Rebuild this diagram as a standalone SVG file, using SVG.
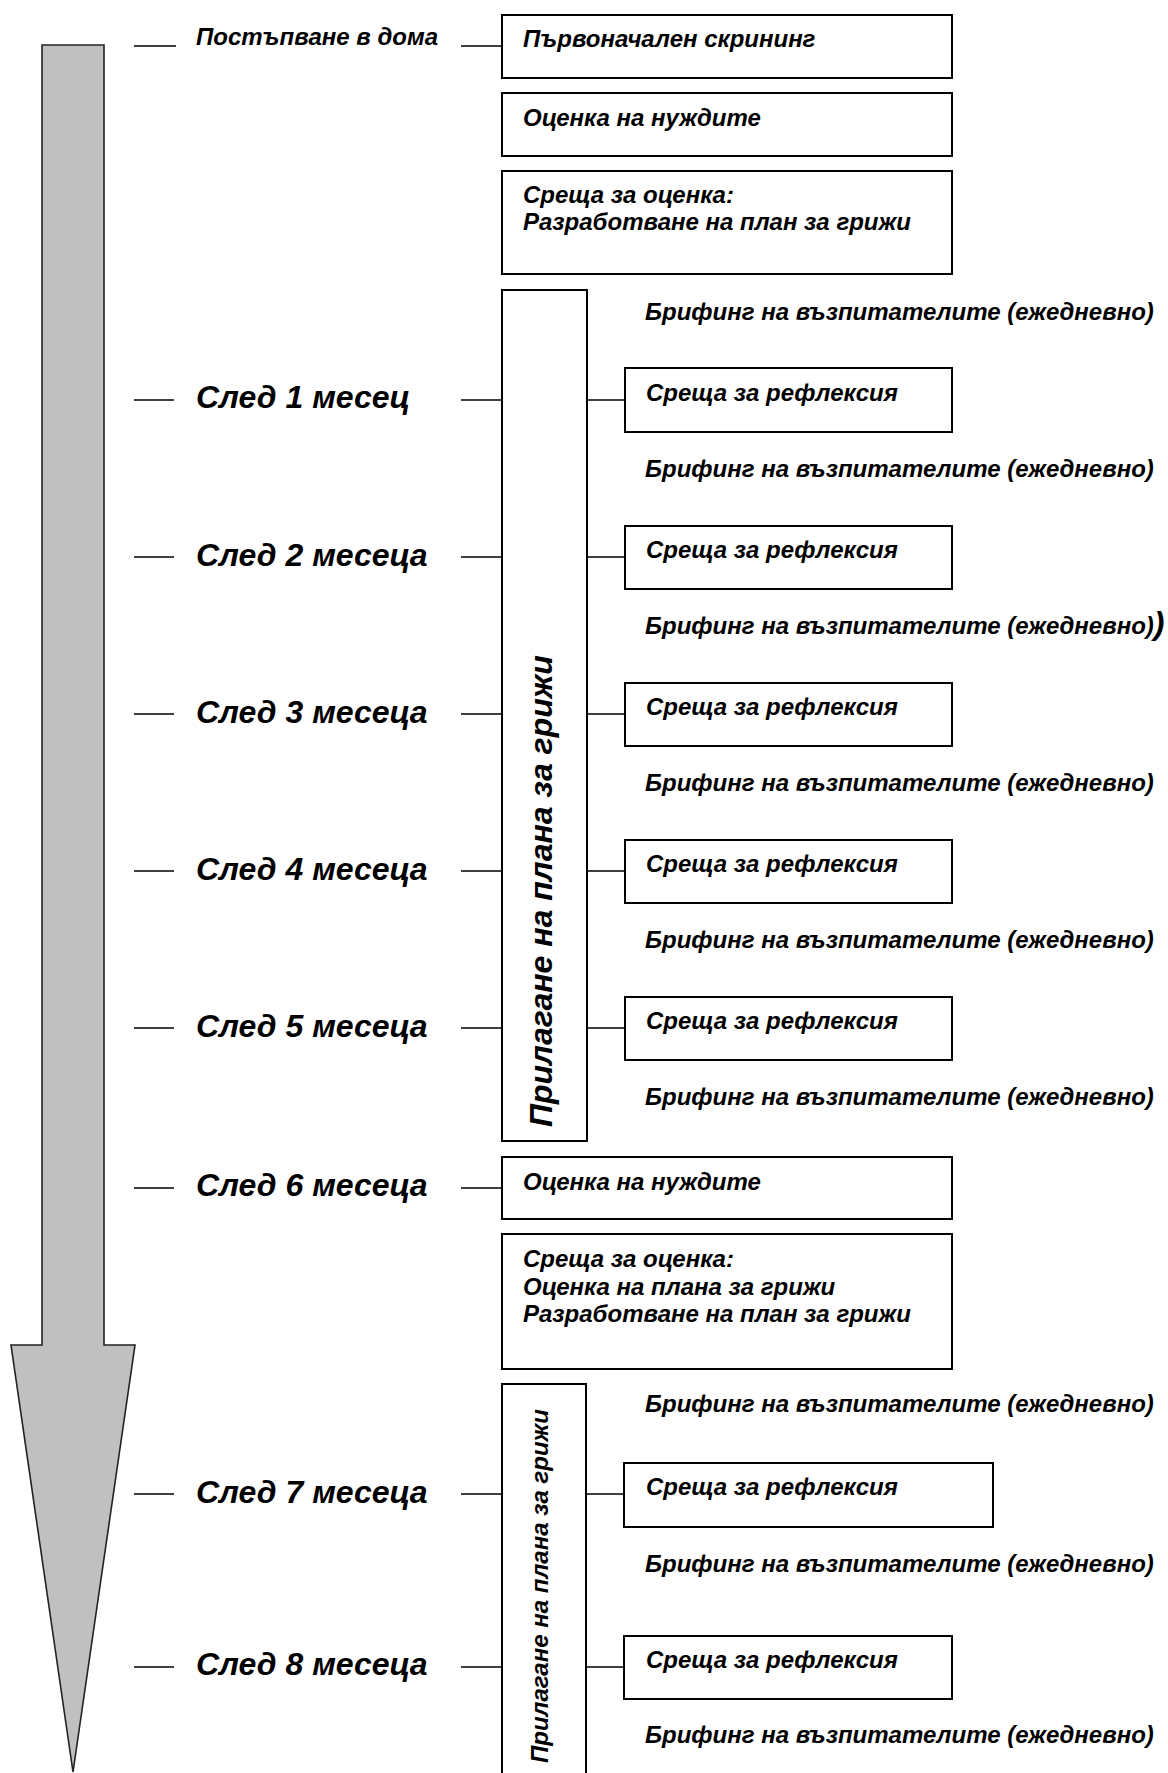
<svg xmlns="http://www.w3.org/2000/svg" width="1168" height="1773" viewBox="0 0 1168 1773">
<style>
text{font-family:"Liberation Sans",Arial,sans-serif;font-weight:bold;font-style:italic;fill:#000}
.s{font-size:24px}
.l{font-size:32px}
.box{fill:#fff;stroke:#000;stroke-width:2}
.tick{stroke:#000;stroke-width:1.6;fill:none}
</style>
<rect width="1168" height="1773" fill="#fff"/>
<g id="arrow">
<polygon points="42,45 104,45 104,1345 135,1345 73,1772 11,1345 42,1345" fill="#c0c0c0" stroke="#222" stroke-width="1.6"/>
</g>
<g id="connectors">
<path class="tick" d="M134,46H176 M461,46H502
M134,400H174 M461,400H502 M587,400H625
M134,557H174 M461,557H502 M587,557H625
M134,714H174 M461,714H502 M587,714H625
M134,871H174 M461,871H502 M587,871H625
M134,1028H174 M461,1028H502 M587,1028H625
M134,1188H174 M461,1188H502
M134,1494H174 M461,1494H502 M586,1494H624
M134,1667H174 M461,1667H502 M586,1667H624"/>
</g>
<g id="labels">
<text class="s" x="196" y="45">Постъпване в дома</text>
<text class="l" x="196" y="408">След 1 месец</text>
<text class="l" x="196" y="566">След 2 месеца</text>
<text class="l" x="196" y="723">След 3 месеца</text>
<text class="l" x="196" y="880">След 4 месеца</text>
<text class="l" x="196" y="1037">След 5 месеца</text>
<text class="l" x="196" y="1196">След 6 месеца</text>
<text class="l" x="196" y="1503">След 7 месеца</text>
<text class="l" x="196" y="1675">След 8 месеца</text>
</g>
<g id="n-screening"><rect class="box" x="502" y="15" width="450" height="63"/><text class="s" x="523" y="47">Първоначален скрининг</text></g>
<g id="n-needs1"><rect class="box" x="502" y="93" width="450" height="63"/><text class="s" x="523" y="126">Оценка на нуждите</text></g>
<g id="n-eval1"><rect class="box" x="502" y="171" width="450" height="103"/><text class="s" x="523" y="203">Среща за оценка:</text><text class="s" x="523" y="230">Разработване на план за грижи</text></g>
<g id="n-impl1"><rect class="box" x="502" y="290" width="85" height="851"/><text class="l" transform="rotate(-90 552 1127)" x="552" y="1127">Прилагане на плана за грижи</text></g>
<g id="n-brief1"><text class="s" x="645" y="320">Брифинг на възпитателите (ежедневно)</text></g>
<g id="n-refl1"><rect class="box" x="625" y="368" width="327" height="64"/><text class="s" x="646" y="401">Среща за рефлексия</text></g>
<g id="n-brief2"><text class="s" x="645" y="477">Брифинг на възпитателите (ежедневно)</text></g>
<g id="n-refl2"><rect class="box" x="625" y="526" width="327" height="63"/><text class="s" x="646" y="558">Среща за рефлексия</text></g>
<g id="n-brief3"><text class="s" x="645" y="634">Брифинг на възпитателите (ежедневно)<tspan style="font-size:32px">)</tspan></text></g>
<g id="n-refl3"><rect class="box" x="625" y="683" width="327" height="63"/><text class="s" x="646" y="715">Среща за рефлексия</text></g>
<g id="n-brief4"><text class="s" x="645" y="791">Брифинг на възпитателите (ежедневно)</text></g>
<g id="n-refl4"><rect class="box" x="625" y="840" width="327" height="63"/><text class="s" x="646" y="872">Среща за рефлексия</text></g>
<g id="n-brief5"><text class="s" x="645" y="948">Брифинг на възпитателите (ежедневно)</text></g>
<g id="n-refl5"><rect class="box" x="625" y="997" width="327" height="63"/><text class="s" x="646" y="1029">Среща за рефлексия</text></g>
<g id="n-brief6"><text class="s" x="645" y="1105">Брифинг на възпитателите (ежедневно)</text></g>
<g id="n-needs2"><rect class="box" x="502" y="1157" width="450" height="62"/><text class="s" x="523" y="1190">Оценка на нуждите</text></g>
<g id="n-eval2"><rect class="box" x="502" y="1234" width="450" height="135"/><text class="s" x="523" y="1267">Среща за оценка:</text><text class="s" x="523" y="1295">Оценка на плана за грижи</text><text class="s" x="523" y="1322">Разработване на план за грижи</text></g>
<g id="n-impl2"><path class="box" d="M502,1776V1384H586V1776"/><text class="s" transform="rotate(-90 548 1763)" x="548" y="1763">Прилагане на плана за грижи</text></g>
<g id="n-brief7"><text class="s" x="645" y="1412">Брифинг на възпитателите (ежедневно)</text></g>
<g id="n-refl7"><rect class="box" x="624" y="1463" width="369" height="64"/><text class="s" x="646" y="1495">Среща за рефлексия</text></g>
<g id="n-brief8"><text class="s" x="645" y="1572">Брифинг на възпитателите (ежедневно)</text></g>
<g id="n-refl8"><rect class="box" x="624" y="1636" width="328" height="63"/><text class="s" x="646" y="1668">Среща за рефлексия</text></g>
<g id="n-brief9"><text class="s" x="645" y="1743">Брифинг на възпитателите (ежедневно)</text></g>
</svg>
